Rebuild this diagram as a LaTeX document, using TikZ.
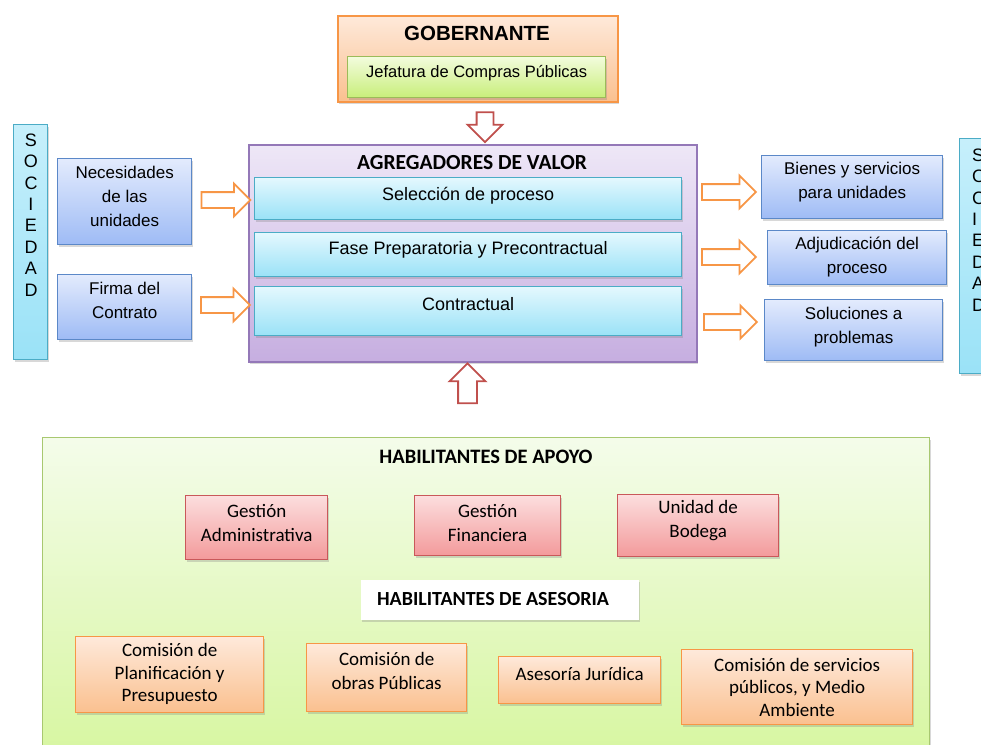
\documentclass[tikz,border=0pt]{standalone}
\usepackage{fontspec}
\setmainfont{Liberation Sans}
\newfontfamily\carl{Carlito}
\usetikzlibrary{shapes.arrows,shadows,shadings}
\definecolor{orgline}{HTML}{F79646}
\definecolor{orgtop}{HTML}{FEE9DA}
\definecolor{orgbot}{HTML}{FAC08F}
\definecolor{grnline}{HTML}{9BBB59}
\definecolor{grntop}{HTML}{F3FCDD}
\definecolor{grnbot}{HTML}{C8EE7A}
\definecolor{purline}{HTML}{9478B8}
\definecolor{purtop}{HTML}{EEE7F7}
\definecolor{purbot}{HTML}{C6AEE0}
\definecolor{cyaline}{HTML}{4BACC6}
\definecolor{cyatop}{HTML}{E4F8FE}
\definecolor{cyabot}{HTML}{9AE2F7}
\definecolor{bluline}{HTML}{5B88C8}
\definecolor{blutop}{HTML}{E3EBFD}
\definecolor{blubot}{HTML}{9EBBF5}
\definecolor{redline}{HTML}{C9585A}
\definecolor{redtop}{HTML}{FCDEDE}
\definecolor{redbot}{HTML}{F39A9B}
\definecolor{habline}{HTML}{A8C870}
\definecolor{habtop}{HTML}{F4FCEA}
\definecolor{habbot}{HTML}{D6F69E}
\definecolor{arrred}{HTML}{C0504D}
\begin{document}
\begin{tikzpicture}[x=1pt,y=-1pt,
  box/.style={rectangle, inner sep=0pt, anchor=north west, line width=1.3pt,
    drop shadow={shadow xshift=1pt, shadow yshift=-2.5pt, opacity=0.3}},
  orgbox/.style={box, draw=orgline, top color=orgtop, bottom color=orgbot},
  grnbox/.style={box, draw=grnline, top color=grntop, bottom color=grnbot},
  purbox/.style={box, draw=purline, top color=purtop, bottom color=purbot},
  cyabox/.style={box, draw=cyaline, top color=cyatop, bottom color=cyabot},
  blubox/.style={box, draw=bluline, top color=blutop, bottom color=blubot},
  redbox/.style={box, draw=redline, top color=redtop, bottom color=redbot},
  habbox/.style={box, draw=habline, top color=habtop, bottom color=habbot, drop shadow={opacity=0}},
  socbox/.style={box, draw=cyaline, top color=cyatop!60!cyabot, bottom color=cyabot},
  txt/.style={align=center, inner sep=0pt, font=\fontsize{17}{24}\selectfont},
  midtxt/.style={align=center, inner sep=0pt, font=\fontsize{18}{24}\selectfont},
  lowtxt/.style={align=center, inner sep=0pt, font=\carl\fontsize{19}{24}\selectfont},
  ttl/.style={inner sep=0pt, font=\bfseries\fontsize{20.5}{24}\selectfont},
  cttl/.style={inner sep=0pt, font=\carl\bfseries\fontsize{20.5}{24}\selectfont},
  blockarrow/.style={single arrow, fill=white, line width=1.8pt,
    single arrow tip angle=90, single arrow head indent=0pt},
  oarr/.style={blockarrow, draw=orgline, inner xsep=0pt, inner ysep=7pt, single arrow head extend=8.5pt},
  rarr/.style={blockarrow, draw=arrred, inner ysep=0pt}
]
\useasboundingbox (0,0) rectangle (981,744);
\clip (0,0) rectangle (981,744);
\fill[white] (0,0) rectangle (981,744);

% GOBERNANTE
\node[orgbox, line width=1.6pt, minimum width=280pt, minimum height=86pt] (gob) at (337,15) {};
\node[ttl] (gobT) at (477,33) {GOBERNANTE};
\node[grnbox, minimum width=258pt, minimum height=41pt] (jef) at (347,56) {};
\node[txt, font=\fontsize{16.5}{24}\selectfont] (jefT) at ([yshift=4.5pt]jef.center) {Jefatura de Compras Públicas};

% AGREGADORES
\node[purbox, line width=1.6pt, minimum width=448pt, minimum height=217pt] (agr) at (248,144) {};
\node[cttl, font=\carl\bfseries\fontsize{21.5}{24}\selectfont] (agrT) at (472,163) {AGREGADORES DE VALOR};
\node[cyabox, minimum width=427pt, minimum height=42pt] (sel) at (254,177) {};
\node[midtxt] (selT) at ([yshift=3pt]sel.center) {Selección de proceso};
\node[cyabox, minimum width=427pt, minimum height=44pt] (fase) at (254,232) {};
\node[midtxt] (faseT) at ([yshift=5pt]fase.center) {Fase Preparatoria y Precontractual};
\node[cyabox, minimum width=427pt, minimum height=49pt] (con) at (254,286) {};
\node[midtxt] (conT) at ([yshift=7pt]con.center) {Contractual};

% Left side
\node[socbox, minimum width=34pt, minimum height=235pt] (socL) at (13,124) {};
\node[align=center, inner sep=0pt, font=\fontsize{18}{21.4}\selectfont] (socLT) at (31,215) {S\\O\\C\\I\\E\\D\\A\\D};
\node[blubox, minimum width=134pt, minimum height=86pt] (nec) at (57,158) {};
\node[txt] (necT) at ([yshift=5.5pt]nec.center) {Necesidades\\de las\\unidades};
\node[blubox, minimum width=134pt, minimum height=65pt] (fir) at (57,274) {};
\node[txt] (firT) at ([yshift=6.5pt]fir.center) {Firma del\\Contrato};

% Right side
\node[blubox, minimum width=181pt, minimum height=63pt] (bien) at (761,155) {};
\node[txt] (bienT) at ([yshift=5.5pt]bien.center) {Bienes y servicios\\para unidades};
\node[blubox, minimum width=179pt, minimum height=54pt] (adj) at (767,230) {};
\node[txt] (adjT) at ([yshift=1pt]adj.center) {Adjudicación del\\proceso};
\node[blubox, minimum width=178pt, minimum height=61pt] (sol) at (764,299) {};
\node[txt] (solT) at ([yshift=3.5pt]sol.center) {Soluciones a\\problemas};
\node[socbox, minimum width=50pt, minimum height=235pt] (socR) at (959,138) {};
\node[align=left, anchor=west, inner sep=0pt, font=\fontsize{18}{21.4}\selectfont] (socRT) at (972,230) {S\\O\\C\\I\\E\\D\\A\\D};

% Block arrows
\node[oarr, minimum height=49pt] (a1) at (222,200) {};
\node[oarr, minimum height=49pt] (a2) at (221.5,305) {};
\node[oarr, minimum height=54pt] (a3) at (725,192) {};
\node[oarr, minimum height=54pt] (a4) at (725,257) {};
\node[oarr, minimum height=53pt] (a5) at (726.5,322) {};
\node[rarr, shape border rotate=270, minimum height=30pt, inner xsep=7.5pt, single arrow head extend=9pt] (down) at (485,123) {};
\node[rarr, shape border rotate=90, minimum height=40pt, inner xsep=8.5pt, single arrow head extend=8.5pt] (up) at (467.5,388) {};

% HABILITANTES
\node[habbox, minimum width=887pt, minimum height=330pt] (hab) at (42,437) {};
\node[cttl] (habT) at (486,457) {HABILITANTES DE APOYO};
\node[redbox, minimum width=142pt, minimum height=64pt] (gadm) at (185,495) {};
\node[lowtxt] (gadmT) at ([yshift=5pt]gadm.center) {Gestión\\Administrativa};
\node[redbox, minimum width=146pt, minimum height=60pt] (gfin) at (414,495) {};
\node[lowtxt] (gfinT) at ([yshift=3pt]gfin.center) {Gestión\\Financiera};
\node[redbox, minimum width=161pt, minimum height=62pt] (ubod) at (617,494) {};
\node[lowtxt] (ubodT) at ([yshift=5pt]ubod.center) {Unidad de\\Bodega};
\node[box, fill=white, drop shadow={opacity=0}, minimum width=278pt, minimum height=40pt] (ases) at (360,579) {};
\node[cttl, font=\carl\bfseries\fontsize{20}{24}\selectfont] (asesT) at (493,599) {HABILITANTES DE ASESORIA};
\node[orgbox, minimum width=188pt, minimum height=76pt] (cplan) at (75,636) {};
\node[lowtxt, font=\carl\fontsize{19}{22.5}\selectfont] (cplanT) at ([yshift=0.5pt]cplan.center) {Comisión de\\Planificación y\\Presupuesto};
\node[orgbox, minimum width=160pt, minimum height=68pt] (cobr) at (306,643) {};
\node[lowtxt] (cobrT) at ([yshift=7pt]cobr.center) {Comisión de\\obras Públicas};
\node[orgbox, minimum width=162pt, minimum height=47pt] (ajur) at (498,656) {};
\node[lowtxt] (ajurT) at ([yshift=6.5pt]ajur.center) {Asesoría Jurídica};
\node[orgbox, minimum width=231pt, minimum height=75pt] (cserv) at (681,649) {};
\node[lowtxt, font=\carl\fontsize{19}{22.5}\selectfont] (cservT) at (cserv.center) {Comisión de servicios\\públicos, y Medio\\Ambiente};
\end{tikzpicture}
\end{document}
